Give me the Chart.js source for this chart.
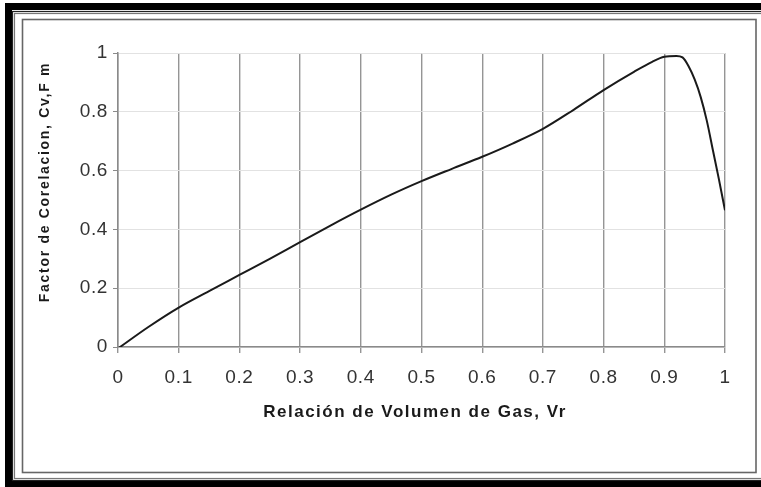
<!DOCTYPE html>
<html>
<head>
<meta charset="utf-8">
<script src="https://cdn.jsdelivr.net/npm/chart.js@4.4.1/dist/chart.umd.min.js"></script>
<style>
  html, body { margin: 0; padding: 0; background: #fff; }
  #wrap { position: relative; width: 761px; height: 487px; overflow: hidden; }
  canvas { display: block; }
</style>
</head>
<body>
<div id="wrap"><canvas id="c" width="761" height="487"></canvas></div>
<script>
// Gas volume ratio (Vr) and correlation factor (Cv,F m)
const vrValues = [0, 0.05, 0.1, 0.15, 0.2, 0.25, 0.3, 0.35, 0.4, 0.45, 0.5, 0.55, 0.6, 0.65, 0.7, 0.75, 0.8, 0.85, 0.88, 0.9, 0.92, 0.93, 0.94, 0.95, 0.96, 0.97, 0.98, 0.99, 1.0];
const cvValues = [-0.005, 0.068, 0.134, 0.19, 0.245, 0.3, 0.357, 0.413, 0.467, 0.518, 0.564, 0.606, 0.647, 0.692, 0.742, 0.806, 0.874, 0.936, 0.97, 0.987, 0.99, 0.985, 0.955, 0.91, 0.85, 0.77, 0.67, 0.57, 0.465];
const xTickValues = [0, 0.1, 0.2, 0.3, 0.4, 0.5, 0.6, 0.7, 0.8, 0.9, 1];
const yTickValues = [0, 0.2, 0.4, 0.6, 0.8, 1];
const xTitle = 'Relación de Volumen de Gas, Vr';
const yTitle = 'Factor de Corelacion, Cv,F m';

const points = vrValues.map((v, i) => ({ x: v, y: cvValues[i] }));
const FONT = '"Liberation Sans", Arial, sans-serif';

// Frames around the figure and the axis titles
const framePlugin = {
  id: 'frames',
  beforeDraw(chart) {
    const ctx = chart.ctx;
    ctx.save();
    ctx.fillStyle = '#fff';
    ctx.fillRect(0, 0, chart.width, chart.height);
    // thick outer border
    ctx.strokeStyle = '#000';
    ctx.lineWidth = 7;
    ctx.strokeRect(8.5, 6.5, 770, 477);
    // double thin lines inside the thick border
    ctx.lineWidth = 1.2;
    ctx.strokeStyle = '#222';
    ctx.strokeRect(12.5, 11.5, 770, 469);
    ctx.strokeStyle = '#777';
    ctx.strokeRect(14.5, 13.5, 770, 465);
    // inner frame
    ctx.lineWidth = 1.6;
    ctx.strokeStyle = '#666';
    ctx.strokeRect(22.5, 19.5, 733.5, 453);
    ctx.restore();
    // slightly open spacing for the tick labels drawn next
    ctx.letterSpacing = '0.6px';
  },
  afterDraw(chart) {
    const ctx = chart.ctx;
    ctx.save();
    ctx.fillStyle = '#1a1a1a';
    ctx.textAlign = 'center';
    ctx.textBaseline = 'middle';
    ctx.font = 'bold 17px ' + FONT;
    ctx.letterSpacing = '1.5px';
    ctx.fillText(xTitle, 415, 412);
    ctx.translate(45, 182);
    ctx.rotate(-Math.PI / 2);
    ctx.font = 'bold 14px ' + FONT;
    ctx.letterSpacing = '1.7px';
    ctx.fillText(yTitle, 0, 0);
    ctx.restore();
    ctx.letterSpacing = '0px';
  }
};

new Chart(document.getElementById('c'), {
  type: 'line',
  data: {
    datasets: [{
      data: points,
      borderColor: '#1a1a1a',
      borderWidth: 2,
      pointRadius: 0,
      fill: false,
      cubicInterpolationMode: 'monotone'
    }]
  },
  options: {
    responsive: false,
    animation: false,
    events: [],
    layout: { padding: { left: 0, right: 36, top: 53, bottom: 0 } },
    plugins: { legend: { display: false }, tooltip: { enabled: false } },
    scales: {
      x: {
        type: 'linear',
        min: 0,
        max: 1,
        afterBuildTicks(scale) { scale.ticks = xTickValues.map(v => ({ value: v })); },
        afterFit(scale) { scale.height = 487 - 347; },
        ticks: {
          color: '#333',
          font: { family: FONT, size: 19 },
          padding: 13,
          maxRotation: 0,
          autoSkip: false,
          callback: v => String(Math.round(v * 10) / 10)
        },
        grid: { color: '#959595', lineWidth: 1.4, tickLength: 6, tickColor: '#959595' },
        border: { color: '#8a8a8a', width: 1.5 }
      },
      y: {
        type: 'linear',
        min: 0,
        max: 1,
        afterBuildTicks(scale) { scale.ticks = yTickValues.map(v => ({ value: v })); },
        afterFit(scale) { scale.width = 118; },
        ticks: {
          color: '#333',
          font: { family: FONT, size: 19 },
          padding: 5,
          autoSkip: false,
          callback: v => String(Math.round(v * 10) / 10)
        },
        grid: { color: '#e2e2e2', lineWidth: 1, tickLength: 5, tickColor: '#8a8a8a' },
        border: { color: '#8a8a8a', width: 1.5 }
      }
    }
  },
  plugins: [framePlugin]
});
</script>
</body>
</html>
